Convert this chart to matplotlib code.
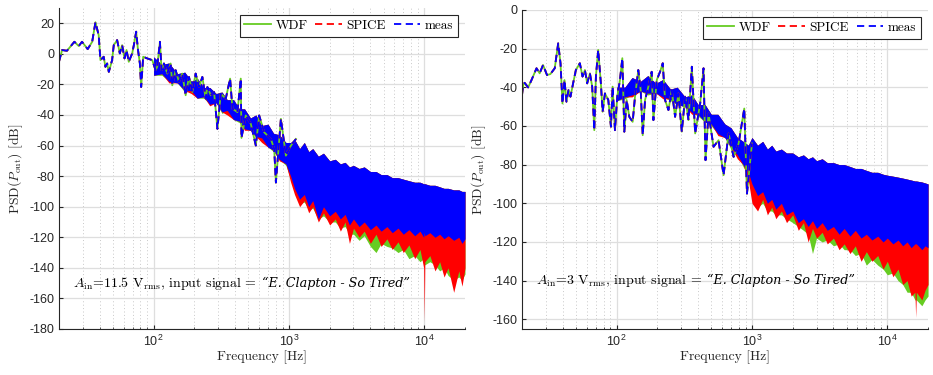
"""
PSD comparison WDF / SPICE / measurement, two input levels
"""
import matplotlib
matplotlib.use('Agg')
import matplotlib.pyplot as plt
from matplotlib.ticker import FixedLocator, LogLocator, NullFormatter

# ---- left panel (11.5 Vrms): common trace (all three curves overlap here) ----
f_low_a = [20, 21.1, 22.9, 26.0, 28.0, 29.6, 32.6, 35.2, 37.2, 39.3, 40.5, 42.8, 44.1,
           45.4, 46.7, 49.4, 50.8, 53.8, 56.3, 58.6, 61.0, 63.1, 65.6, 69.5, 71.5, 74.4,
           76.6, 79.2, 81.0, 83.8, 89.8, 97.8, 103.5, 106.4, 111.4, 114.6, 119.3, 126.3,
           133.7, 137.5, 145.6, 154.1, 163.0, 172.6, 182.7, 193.3, 204.6, 216.6, 229.3,
           242.7, 249.9, 264.4, 279.9, 296.3, 313.6, 341.5, 367.6, 382.6, 416.6, 440.9,
           446.0, 480.0, 523.0, 569.5, 602.8, 656.5, 735.5, 778.5, 801.3, 872.3, 950, 1035, 1127]
psd_low_a = [-5.2, 2.5, 2.0, 7.9, 5.1, 7.9, 3.1, 7.9, 20.7, 12.3, -4.1, -1.9, -8.5,
             -6.3, -11.8, -4.1, 5.7, 9.0, 0.3, 5.7, -3.0, 2.5, -5.2, 0.3, 5.7, 14.5,
             3.1, -6.3, -21.7, -1.9, -3.0, -4.1, -10.7, -8.5, 7.9, -10.7, -6.3, -12.9,
             -6.3, -20.6, -10.7, -18.4, -12.9, -27.1, -15.1, -25.0, -12.9, -21.7, -15.1,
             -29.3, -21.7, -27.1, -25.0, -49.1, -26.1, -29.3, -16.2, -35.9, -38.1, -16.2,
             -55.0, -40.3, -45.8, -60.0, -40.3, -51.3, -55.7, -62.2, -84.2, -42.5, -66.6, -60.0, -55.7]

# ---- left panel: dense band (envelopes of the tangled traces) ----
f_band_a = [100, 115, 130, 150, 170, 190, 210, 235, 260, 290, 320, 350, 390, 430, 470,
            520, 570, 630, 700, 770, 850, 950, 1030,
            1100, 1200, 1300, 1400, 1500, 1650, 1800, 2000, 2200, 2400, 2600, 2800, 3000,
            3300, 3600, 4000, 4400, 4800, 5300, 5800, 6400, 7000, 7700, 8500, 9300, 9900,
            10000, 10100, 11000, 12000, 13000, 14000, 15000, 16500, 18000, 19000, 20000]
meas_top_a = [-2, -7, -6, -13, -12, -18, -16, -22, -22, -26, -25, -30, -30, -36, -36,
              -42, -40, -47, -46, -52, -53, -58, -58,
              -56, -62, -58, -64, -62, -67, -65, -70, -69, -72, -71, -74, -73,
              -75, -74, -77, -77, -79, -79, -81, -81, -82, -83, -84, -84, -85,
              -85, -85, -86, -86, -87, -88, -88, -89, -89, -90, -90]
meas_bot_a = [-14, -13, -18, -19, -24, -24, -29, -28, -33, -32, -38, -37, -43, -44, -49,
              -50, -54, -55, -61, -63, -69, -72, -80,
              -88, -95, -92, -100, -96, -108, -100, -106, -103, -108, -105, -112, -108,
              -113, -110, -115, -112, -116, -113, -117, -114, -118, -115, -119, -116, -120,
              -117, -119, -117, -120, -118, -121, -119, -122, -120, -124, -121]
spice_bot_a = [-14, -13, -19, -19, -24, -26, -29, -28, -34, -32, -38, -40, -43, -44, -50,
               -50, -54, -58, -61, -63, -70, -72, -84,
               -92, -100, -96, -104, -100, -110, -104, -112, -108, -116, -110, -124, -114,
               -120, -116, -124, -118, -126, -121, -128, -123, -130, -125, -134, -128, -140,
               -175, -136, -132, -142, -136, -146, -140, -156, -142, -152, -140]
wdf_bot_a = [-14, -14, -18, -19, -25, -24, -29, -29, -33, -32, -39, -37, -43, -45, -49,
             -50, -55, -55, -61, -64, -69, -73, -82,
             -90, -98, -97, -102, -101, -108, -106, -110, -110, -114, -113, -118, -118,
             -122, -119, -126, -130, -124, -126, -127, -130, -128, -134, -132, -136, -134,
             -138, -138, -136, -138, -142, -140, -145, -148, -146, -148, -144]

# ---- right panel (3 Vrms): common trace ----
f_low_b = [20, 20.4, 20.9, 22.2, 23.5, 25.6, 27.0, 28.6, 30.6, 32.4, 34.9, 37.0, 38.5,
           39.8, 41.2, 42.6, 44.1, 45.6, 47.7, 50.0, 53.5, 56.0, 58.3, 60.6, 63.5, 66.0,
           68.4, 70.3, 73.1, 76.5, 78.8, 82.0, 86.8, 90.8, 93.4, 97.2, 101.1, 105.8, 110.2,
           114.0, 118.6, 124.1, 131.4, 136.7, 144.6, 150.6, 155.9, 162.2, 171.7, 181.6,
           187.0, 197.8, 209.4, 219.2, 228.0, 241.5, 255.5, 270.5, 286.3, 303.0, 320.8,
           339.6, 359.5, 380.4, 414.4, 438.6, 453.8, 477.5, 520.1, 566.4, 616.8, 671.7,
           731.5, 796.5, 877.3, 918.5, 1000]
psd_low_b = [-44.0, -38.9, -37.7, -40.1, -36.3, -30.2, -32.8, -28.5, -33.7, -33.2, -30.2, -17.3, -27.6,
             -48.4, -36.3, -47.5, -41.5, -44.9, -38.0, -31.1, -27.6, -34.5, -31.1, -38.0, -32.8, -39.7,
             -62.2, -34.5, -20.7, -38.0, -52.7, -43.2, -46.6, -60.4, -39.7, -62.2, -44.9, -36.3, -25.0,
             -63.0, -46.6, -55.3, -57.9, -44.9, -31.1, -41.5, -64.8, -46.6, -39.7, -32.0,
             -57.0, -36.3, -32.0, -27.6, -46.6, -51.8, -41.5, -55.3, -43.2, -63.0, -44.9,
             -57.0, -29.4, -63.9, -48.4, -30.2, -77.7, -53.5, -70.8, -67.4, -85.5, -63.9,
             -76.0, -69.1, -51.0, -95.0, -69.1]

# ---- right panel: dense band ----
f_band_b = [100, 115, 130, 150, 170, 195, 220, 250, 280, 320, 360, 400, 450, 500, 560,
            630, 700, 780, 860, 940,
            1000, 1100, 1200, 1300, 1400, 1500, 1650, 1800, 2000, 2200, 2400, 2600, 2800,
            3000, 3300, 3600, 4000, 4400, 4800, 5300, 5800, 6400, 7000, 7700, 8500, 9300,
            10000, 11000, 12000, 13000, 14000, 15000, 16000, 16200, 16400, 18000, 19000, 20000]
meas_top_b = [-40, -40, -35, -37, -34, -38, -36, -41, -40, -45, -44, -49, -49, -54, -54,
              -59, -61, -66, -68, -70,
              -66, -70, -68, -72, -70, -73, -72, -74, -74, -76, -75, -77, -76,
              -78, -77, -79, -79, -80, -80, -81, -82, -82, -83, -84, -84, -85,
              -85.5, -86, -86.5, -87, -87.5, -88, -88.5, -88.5, -88.5, -89, -89.5, -90]
meas_bot_b = [-47, -45, -44, -42, -43, -43, -45, -46, -49, -50, -53, -54, -58, -59, -64,
              -66, -71, -75, -80, -84,
              -90, -96, -94, -100, -98, -103, -100, -106, -104, -110, -108, -112, -109,
              -113, -110, -114, -112, -116, -113, -117, -114, -118, -116, -119, -117, -120,
              -118, -121, -119, -122, -120, -123, -121, -121, -121, -124, -122, -123]
spice_bot_b = [-47, -45, -45, -42, -43, -43, -46, -46, -49, -50, -54, -54, -58, -59, -65,
               -66, -71, -77, -80, -88,
               -100, -104, -98, -106, -102, -108, -104, -110, -106, -114, -110, -120, -113,
               -118, -115, -121, -118, -124, -121, -126, -122, -130, -125, -130, -127, -134,
               -130, -138, -134, -142, -140, -148, -146, -159, -146, -150, -145, -142]
wdf_bot_b = [-47, -46, -44, -42, -44, -43, -45, -47, -49, -50, -53, -55, -58, -60, -64,
             -66, -72, -75, -81, -86,
             -98, -102, -100, -104, -104, -106, -106, -108, -110, -112, -114, -116, -126,
             -118, -120, -119, -122, -121, -124, -124, -127, -126, -132, -129, -132, -134,
             -137, -136, -140, -142, -146, -146, -150, -150, -150, -153, -150, -148]

panels = [
    dict(f_low=f_low_a, psd_low=psd_low_a, f_band=f_band_a, top=meas_top_a,
         meas_bot=meas_bot_a, spice_bot=spice_bot_a, wdf_bot=wdf_bot_a,
         ylim=(-180, 30), yticks=range(-180, 21, 20),
         note=r'$A_{\rm in}$=11.5 V$_{\rm rms}$, input signal = ', note_y=-150,
         rect=[0.0632, 0.1227, 0.4352, 0.856]),
    dict(f_low=f_low_b, psd_low=psd_low_b, f_band=f_band_b, top=meas_top_b,
         meas_bot=meas_bot_b, spice_bot=spice_bot_b, wdf_bot=wdf_bot_b,
         ylim=(-165, 0), yticks=range(-160, 1, 20),
         note=r'$A_{\rm in}$=3 V$_{\rm rms}$, input signal = ', note_y=-140,
         rect=[0.5595, 0.1227, 0.4352, 0.851]),
]

GREEN = '#66CC22'
RED = '#FF0000'
BLUE = '#0000FF'
AXC = '#262626'
CM = ['cmr10', 'DejaVu Serif']

plt.rcParams['axes.unicode_minus'] = False
plt.rcParams['font.family'] = 'Liberation Sans'
plt.rcParams['mathtext.fontset'] = 'custom'
plt.rcParams['mathtext.rm'] = 'Liberation Sans'
plt.rcParams['mathtext.it'] = 'Liberation Sans:italic'

fig = plt.figure(figsize=(9.33, 3.75), dpi=100)

for p in panels:
    ax = fig.add_axes(p['rect'])
    fb = p['f_band']

    # dense part first (WDF, SPICE, meas), then the sparse trace on top in the same order
    ax.fill_between(fb, p['wdf_bot'], p['top'], color=GREEN, lw=0)
    ax.fill_between(fb, p['spice_bot'], p['top'], color=RED, lw=0)
    ax.fill_between(fb, p['meas_bot'], p['top'], color=BLUE, lw=0)
    ax.plot(p['f_low'], p['psd_low'], color=GREEN, lw=1.3, label='WDF')
    ax.plot(p['f_low'], p['psd_low'], color=RED, lw=1.3, dashes=(4, 2.5), label='SPICE')
    ax.plot(p['f_low'], p['psd_low'], color=BLUE, lw=1.3, dashes=(4, 2.5), label='meas')

    ax.set_xscale('log')
    ax.set_xlim(20, 20000)
    ax.set_ylim(*p['ylim'])
    ax.yaxis.set_major_locator(FixedLocator(list(p['yticks'])))
    ax.xaxis.set_major_locator(FixedLocator([100, 1000, 10000]))
    ax.xaxis.set_minor_locator(LogLocator(base=10, subs=range(2, 10), numticks=20))
    ax.xaxis.set_minor_formatter(NullFormatter())

    ax.grid(True, which='major', color='#dedede', lw=0.9, ls='-')
    ax.grid(True, which='minor', axis='x', color='#c8c8c8', lw=0.7, ls=(0, (1, 2.5)))
    ax.set_axisbelow(True)
    for s in ['top', 'right']:
        ax.spines[s].set_visible(False)
    for s in ['left', 'bottom']:
        ax.spines[s].set_color(AXC)
        ax.spines[s].set_linewidth(0.8)
    ax.tick_params(which='both', direction='in', colors=AXC, labelsize=9)
    ax.tick_params(which='major', length=3)
    ax.tick_params(which='minor', length=1.8)

    ax.set_xlabel('Frequency [Hz]', family=CM, fontsize=9.8, color=AXC, labelpad=1)
    ax.set_ylabel(r'PSD($P_{\rm out}$) [dB]', family=CM, fontsize=9.8, color=AXC,
                  math_fontfamily='cm', labelpad=3)

    t = ax.text(25.5, p['note_y'], p['note'], family=CM, fontsize=10,
                math_fontfamily='cm', va='center', ha='left')
    fig.canvas.draw()
    bb = t.get_window_extent()
    x_next = ax.transData.inverted().transform((bb.x1 + 4, bb.y0))[0]
    ax.text(x_next, p['note_y'], '\u201cE. Clapton - So Tired\u201d', family='DejaVu Serif',
            style='italic', fontsize=9.2, va='center', ha='left')

    leg = ax.legend(loc='upper right', ncol=3, prop={'family': CM, 'size': 9.5},
                    fancybox=False, framealpha=1, edgecolor='#262626',
                    handlelength=2.0, handletextpad=0.35, columnspacing=0.6,
                    borderpad=0.35, borderaxespad=0.55)
    leg.get_frame().set_linewidth(0.8)

fig.savefig('out.png', dpi=100)
